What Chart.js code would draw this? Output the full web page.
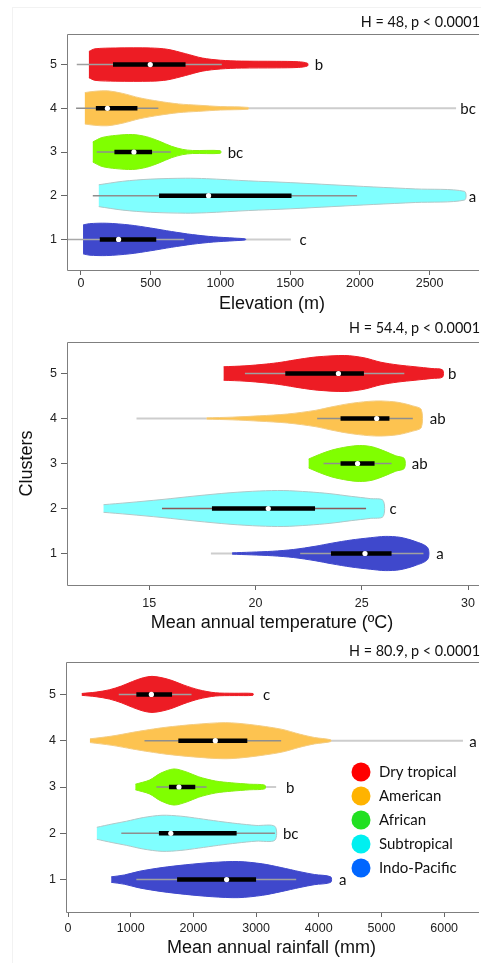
<!DOCTYPE html>
<html>
<head>
<meta charset="utf-8">
<script src="https://cdn.jsdelivr.net/npm/chart.js@4.4.1/dist/chart.umd.min.js"></script>
<style>
html, body { margin: 0; padding: 0; background: #fff; overflow: hidden; }
body { width: 481px; height: 963px; position: relative; }
.panel { position: absolute; left: 0; width: 481px; }
#frame { position: absolute; left: 12px; top: 7px; width: 480px; height: 960px;
         border-left: 1px solid #f2f2f2; border-top: 1px solid #f2f2f2; }
</style>
</head>
<body>
<div id="frame"></div>
<div class="panel" style="top:0;height:315px"><canvas id="elevChart"></canvas></div>
<div class="panel" style="top:315px;height:320px"><canvas id="tempChart"></canvas></div>
<div class="panel" style="top:635px;height:328px"><canvas id="rainChart"></canvas></div>
<script>
// clusters 1..5 (bottom to top)
const clusterTicks = [1, 2, 3, 4, 5];

// ---- Elevation (m) ----
const elevTicks = [0, 500, 1000, 1500, 2000, 2500];
const elevWhiskerLo = [-100, 85, 113, -35, -30];
const elevQ1 = [135, 560, 240, 107, 230];
const elevMedian = [270, 915, 380, 190, 497];
const elevQ3 = [540, 1510, 510, 405, 750];
const elevWhiskerHi = [740, 1980, 645, 555, 1010];
const elevTails = [[1, 1180, 1505], [4, 1200, 2690]];
const elevLetters = ['c', 'a', 'bc', 'bc', 'b'];
const elevLetterX = [1567, 2781, 1052, 2720, 1676];
// violin half-widths: [value, half-width in cluster units]
const elevViolin1 = [[15,0.33],[60,0.36],[185,0.37],[350,0.33],[500,0.26],[650,0.18],[800,0.11],[950,0.06],[1100,0.03],[1180,0.012]];
const elevViolin2 = [[128,0.25],[300,0.33],[500,0.38],[750,0.40],[900,0.39],[1200,0.34],[1500,0.30],[1800,0.25],[2100,0.20],[2400,0.155],[2750,0.10]];
const elevViolin3 = [[85,0.23],[150,0.33],[250,0.38],[370,0.40],[470,0.35],[560,0.25],[650,0.13],[730,0.06],[800,0.035],[1000,0.03]];
const elevViolin4 = [[28,0.36],[100,0.39],[190,0.40],[300,0.34],[420,0.24],[560,0.16],[700,0.10],[845,0.07],[1000,0.04],[1200,0.02]];
const elevViolin5 = [[57,0.30],[100,0.36],[250,0.38],[500,0.38],[620,0.35],[750,0.25],[870,0.15],[1000,0.10],[1150,0.08],[1400,0.075],[1560,0.065],[1625,0.03]];

// ---- Mean annual temperature (ºC) ----
const tempTicks = [15, 20, 25, 30];
const tempWhiskerLo = [22.1, 15.6, 23.2, 22.9, 19.5];
const tempQ1 = [23.55, 17.95, 24.0, 24.0, 21.4];
const tempMedian = [25.15, 20.6, 24.8, 25.7, 23.9];
const tempQ3 = [26.4, 22.8, 25.6, 26.3, 25.1];
const tempWhiskerHi = [27.9, 25.2, 26.4, 27.4, 27.0];
const tempTails = [[1, 17.9, 18.9], [4, 14.4, 17.7]];
const tempLetters = ['a', 'c', 'ab', 'ab', 'b'];
const tempLetterX = [28.5, 26.3, 27.35, 28.2, 29.05];
const tempViolin1 = [[18.9,0.015],[19.8,0.03],[20.8,0.05],[21.8,0.09],[22.8,0.16],[23.6,0.23],[24.5,0.30],[25.4,0.35],[26.1,0.38],[26.8,0.36],[27.5,0.27],[28.1,0.13]];
const tempViolin2 = [[12.85,0.085],[14,0.13],[15.6,0.20],[17.2,0.28],[18.8,0.35],[20.2,0.39],[21.3,0.40],[22.5,0.37],[23.5,0.33],[24.5,0.27],[25.4,0.22],[26.0,0.18]];
const tempViolin3 = [[22.5,0.10],[23.0,0.20],[23.6,0.30],[24.3,0.37],[24.9,0.40],[25.5,0.37],[26.1,0.27],[26.6,0.17],[27.0,0.11]];
const tempViolin4 = [[17.7,0.015],[18.9,0.03],[20.2,0.06],[21.5,0.10],[22.8,0.18],[23.6,0.26],[24.4,0.33],[25.3,0.38],[25.9,0.39],[26.7,0.36],[27.4,0.28],[27.8,0.20]];
const tempViolin5 = [[18.5,0.15],[19.5,0.17],[20.5,0.21],[21.2,0.25],[22.1,0.32],[22.9,0.37],[24.2,0.40],[25.1,0.35],[25.9,0.25],[26.7,0.19],[27.5,0.15],[28.3,0.11],[28.8,0.08]];

// ---- Mean annual rainfall (mm) ----
const rainTicks = [0, 1000, 2000, 3000, 4000, 5000, 6000];
const rainWhiskerLo = [1090, 850, 1410, 1220, 810];
const rainQ1 = [1740, 1450, 1610, 1760, 1090];
const rainMedian = [2530, 1640, 1770, 2350, 1330];
const rainQ3 = [3000, 2690, 2030, 2860, 1660];
const rainWhiskerHi = [3640, 3300, 2210, 3400, 1970];
const rainTails = [[3, 3140, 3320], [4, 4190, 6300]];
const rainLetters = ['a', 'bc', 'b', 'a', 'c'];
const rainLetterX = [4323, 3428, 3476, 6400, 3112];
const rainViolin1 = [[690,0.06],[900,0.10],[1140,0.18],[1500,0.26],[1880,0.32],[2300,0.37],[2720,0.39],[3100,0.34],[3400,0.26],[3700,0.17],[3930,0.11],[4190,0.06]];
const rainViolin2 = [[460,0.13],[700,0.20],[930,0.26],[1200,0.34],[1500,0.39],[1800,0.37],[2085,0.32],[2400,0.26],[2700,0.21],[3000,0.17],[3300,0.15]];
const rainViolin3 = [[1075,0.06],[1300,0.15],[1480,0.30],[1690,0.39],[1900,0.32],[2085,0.22],[2350,0.13],[2610,0.09],[2900,0.06],[3140,0.04]];
const rainViolin4 = [[350,0.04],[700,0.10],[1030,0.18],[1300,0.24],[1560,0.29],[2000,0.35],[2510,0.39],[2900,0.35],[3400,0.25],[3700,0.14],[3930,0.07],[4190,0.02]];
const rainViolin5 = [[220,0.02],[450,0.05],[660,0.10],[850,0.18],[1030,0.28],[1200,0.36],[1340,0.39],[1500,0.36],[1660,0.30],[1850,0.20],[2085,0.10],[2350,0.035],[2650,0.025],[2950,0.02]];

// legend
const legendLabels = ['Dry tropical', 'American', 'African', 'Subtropical', 'Indo-Pacific'];
const legendColors = ['#ff0000', '#ffb300', '#22e022', '#00f0f0', '#0066ff'];

// styles
const violinFill = ['#3f48cc', '#80ffff', '#80ff00', '#fdc350', '#ed1c24'];
const violinEdge = ['#3f48cc', '#b0c8c8', '#86f010', '#f4cc80', '#ed1c24'];
const axisFont = "'Liberation Sans', Arial, sans-serif";
const noteFont = "Lato, 'Open Sans', sans-serif";

function outline(profile, c) {
    const upper = profile.map(p => ({x: p[0], y: c + p[1]}));
    const lower = profile.slice().reverse().map(p => ({x: p[0], y: c - p[1]}));
    return upper.concat(lower);
}

const panelText = {
    id: 'panelText',
    afterDatasetsDraw(chart, args, opts) {
        const {ctx, chartArea: a, scales: {x, y}} = chart;
        ctx.save();
        ctx.strokeStyle = '#7f7f7f';
        ctx.lineWidth = 1;
        ctx.beginPath();
        ctx.moveTo(a.right + 2, a.top + 0.5);
        ctx.lineTo(a.left + 0.5, a.top + 0.5);
        ctx.lineTo(a.left + 0.5, a.bottom + 0.5);
        ctx.lineTo(a.right + 2, a.bottom + 0.5);
        ctx.stroke();

        ctx.fillStyle = '#111';
        ctx.textBaseline = 'middle';
        ctx.font = '14.4px ' + noteFont;
        ctx.textAlign = 'right';
        ctx.fillText(opts.stat, chart.width - 1, a.top - opts.statGap);

        ctx.font = '15px ' + noteFont;
        ctx.textAlign = 'left';
        opts.letters.forEach((t, i) => {
            ctx.fillText(t, x.getPixelForValue(opts.letterX[i]), y.getPixelForValue(clusterTicks[i]) + 1);
        });

        if (opts.legend) {
            const lx = a.left + 295, ly = a.top + 110;
            legendLabels.forEach((t, i) => {
                ctx.fillStyle = legendColors[i];
                ctx.beginPath();
                ctx.arc(lx, ly + i * 24, 9.5, 0, Math.PI * 2);
                ctx.fill();
                ctx.fillStyle = '#111';
                ctx.fillText(t, lx + 18, ly + i * 24);
            });
        }
        ctx.restore();
    }
};

function makePanel(id, p) {
    const datasets = [];
    p.tails.forEach(t => datasets.push({
        data: [{x: t[1], y: t[0]}, {x: t[2], y: t[0]}],
        borderColor: '#cdcdcd', borderWidth: 2, order: 5
    }));
    p.violins.forEach((prof, i) => datasets.push({
        data: outline(prof, clusterTicks[i]),
        fill: 'shape', backgroundColor: violinFill[i], borderColor: violinEdge[i],
        borderWidth: 1, tension: 0.3, order: 4
    }));
    clusterTicks.forEach((c, i) => {
        datasets.push({
            data: [{x: p.lo[i], y: c}, {x: p.hi[i], y: c}],
            borderColor: p.whisker[i], borderWidth: 1.5, order: 3
        });
        datasets.push({
            data: [{x: p.q1[i], y: c}, {x: p.q3[i], y: c}],
            borderColor: '#000', borderWidth: 4.5, borderCapStyle: 'butt', order: 2
        });
    });
    datasets.push({
        data: clusterTicks.map((c, i) => ({x: p.med[i], y: c})),
        showLine: false, pointRadius: 2.6, pointBackgroundColor: '#fff',
        pointBorderWidth: 0, order: 1
    });

    return new Chart(document.getElementById(id), {
        type: 'line',
        data: {datasets},
        options: {
            animation: false,
            responsive: true,
            maintainAspectRatio: false,
            events: [],
            layout: {padding: {top: p.areaTop, left: 0, right: 0, bottom: 0}},
            elements: {point: {radius: 0}, line: {fill: false}},
            plugins: {
                legend: {display: false},
                tooltip: {enabled: false},
                panelText: {stat: p.stat, statGap: p.statGap, letters: p.letters, letterX: p.letterX, legend: p.legend}
            },
            scales: {
                x: {
                    type: 'linear',
                    min: p.xMin, max: p.xMax,
                    afterBuildTicks: s => { s.ticks = p.xTicks.map(v => ({value: v})); },
                    afterFit: s => { s.height = p.xAxisH; s.paddingLeft = 0; s.paddingRight = 0; },
                    border: {display: false},
                    grid: {drawOnChartArea: false, drawTicks: true, tickLength: 5, color: '#666'},
                    ticks: {
                        padding: p.tickPad, color: '#222', maxRotation: 0, autoSkip: false,
                        font: {family: axisFont, size: 12.5},
                        callback: v => String(v)
                    },
                    title: {
                        display: true, text: p.xTitle, color: '#111',
                        font: {family: axisFont, size: 18},
                        padding: {top: 0, bottom: p.titlePad}
                    }
                },
                y: {
                    type: 'linear',
                    min: 0.3, max: 5.7,
                    afterBuildTicks: s => { s.ticks = clusterTicks.map(v => ({value: v})); },
                    afterFit: s => { s.width = p.yAxisW; s.paddingTop = 0; s.paddingBottom = 0; },
                    border: {display: false},
                    grid: {drawOnChartArea: false, drawTicks: true, tickLength: 6, color: '#666'},
                    ticks: {
                        padding: 4, color: '#222',
                        font: {family: axisFont, size: 12.5},
                        callback: v => String(v)
                    },
                    title: {
                        display: !!p.yTitle, text: p.yTitle || '', color: '#111',
                        font: {family: axisFont, size: 18},
                        padding: {top: 16, bottom: 0}
                    }
                }
            }
        },
        plugins: [panelText]
    });
}

const grey = '#8e8e8e';

makePanel('elevChart', {
    xMin: -100, xMax: 2840, xTicks: elevTicks, xTitle: 'Elevation (m)',
    areaTop: 34, xAxisH: 45, yAxisW: 67, tickPad: 1, titlePad: 0,
    stat: 'H = 48, p < 0.0001', statGap: 12,
    violins: [elevViolin1, elevViolin2, elevViolin3, elevViolin4, elevViolin5],
    lo: elevWhiskerLo, q1: elevQ1, med: elevMedian, q3: elevQ3, hi: elevWhiskerHi,
    whisker: ['#a8a8a8', grey, grey, grey, '#a0a0a0'],
    tails: elevTails, letters: elevLetters, letterX: elevLetterX
});

makePanel('tempChart', {
    xMin: 11.13, xMax: 30.42, xTicks: tempTicks, xTitle: 'Mean annual temperature (ºC)',
    yTitle: 'Clusters',
    areaTop: 27, xAxisH: 50, yAxisW: 67, tickPad: 6, titlePad: 1,
    stat: 'H = 54.4, p < 0.0001', statGap: 13.5,
    violins: [tempViolin1, tempViolin2, tempViolin3, tempViolin4, tempViolin5],
    lo: tempWhiskerLo, q1: tempQ1, med: tempMedian, q3: tempQ3, hi: tempWhiskerHi,
    whisker: ['#a0a0a0', '#8a5a5a', grey, grey, '#a0a0a0'],
    tails: tempTails, letters: tempLetters, letterX: tempLetterX
});

makePanel('rainChart', {
    xMin: -32, xMax: 6524, xTicks: rainTicks, xTitle: 'Mean annual rainfall (mm)',
    areaTop: 27, xAxisH: 51, yAxisW: 66, tickPad: 4, titlePad: 4,
    stat: 'H = 80.9, p < 0.0001', statGap: 11,
    violins: [rainViolin1, rainViolin2, rainViolin3, rainViolin4, rainViolin5],
    lo: rainWhiskerLo, q1: rainQ1, med: rainMedian, q3: rainQ3, hi: rainWhiskerHi,
    whisker: ['#a0a0a0', grey, grey, grey, '#a0a0a0'],
    tails: rainTails, letters: rainLetters, letterX: rainLetterX, legend: true
});
</script>
</body>
</html>
